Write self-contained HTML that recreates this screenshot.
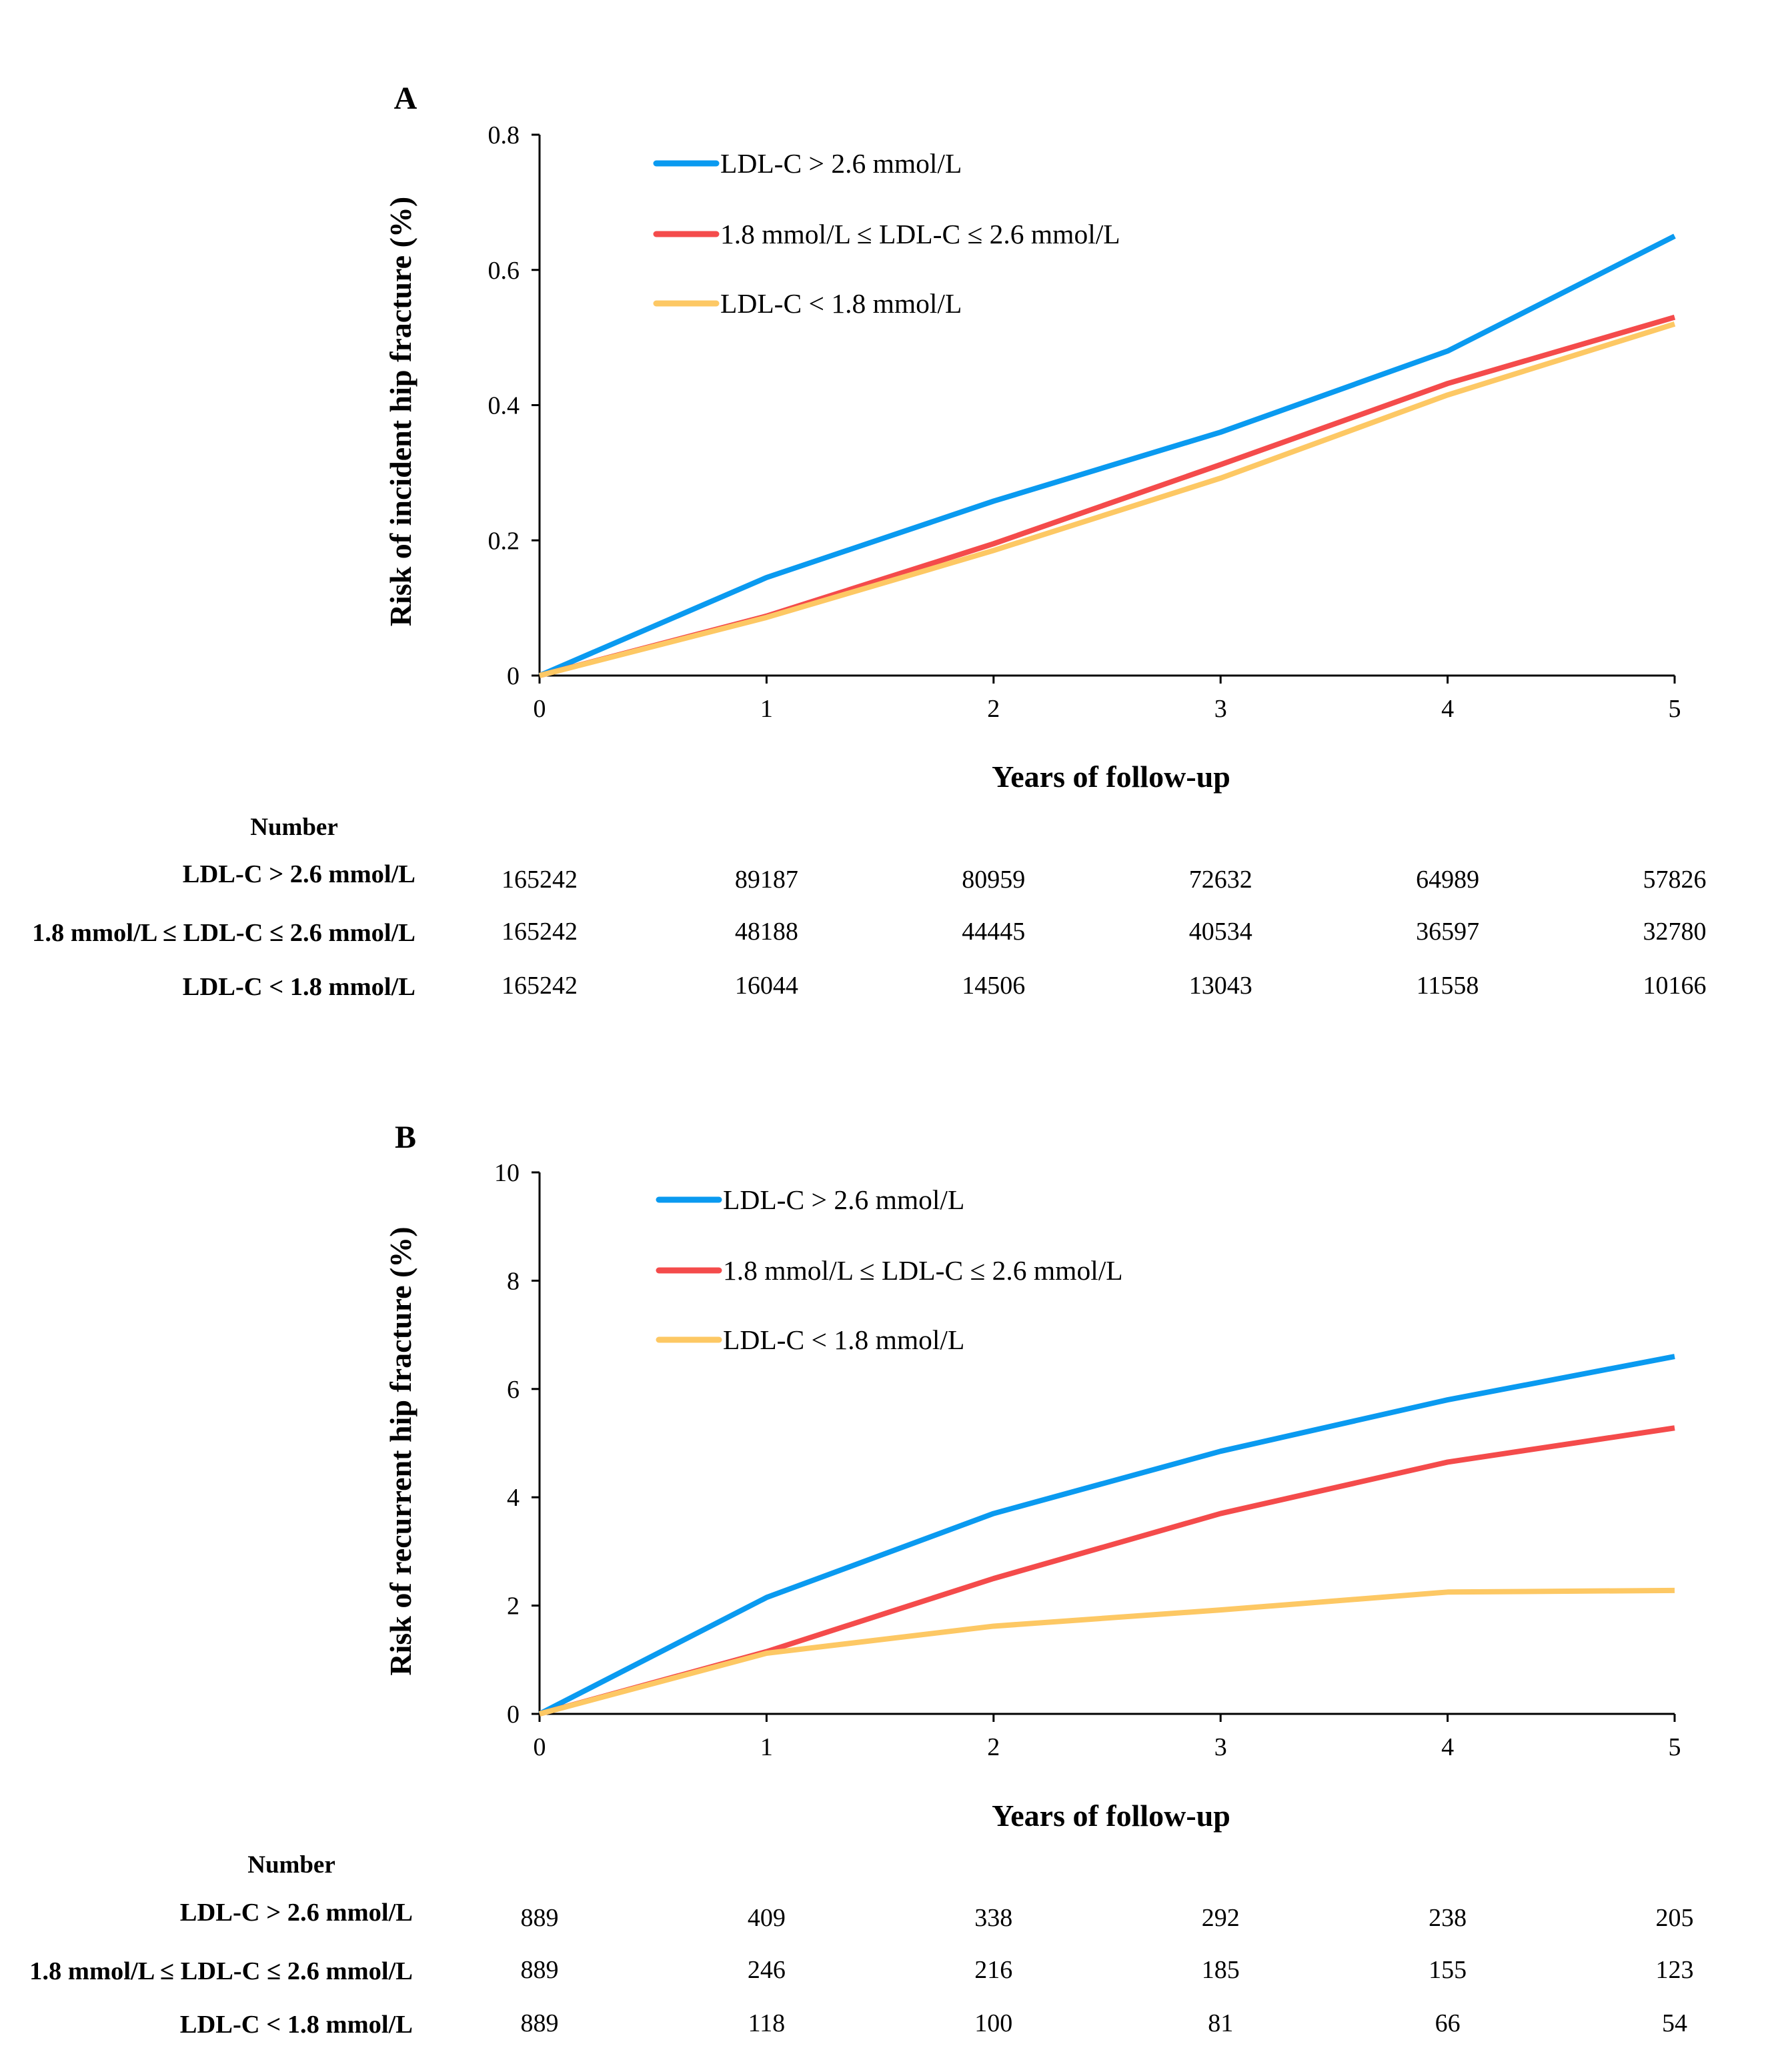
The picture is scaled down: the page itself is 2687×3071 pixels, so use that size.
<!DOCTYPE html>
<html><head><meta charset="utf-8">
<style>
html,body{margin:0;padding:0;background:#fff;}
svg{display:block;font-family:"Liberation Serif","Times New Roman",serif;}
</style></head>
<body>
<svg id="fig" width="2687" height="3071" viewBox="0 0 2687 3071" xmlns="http://www.w3.org/2000/svg"></svg>
<script>
const years = [0,1,2,3,4,5];
const seriesNames = ["LDL-C > 2.6 mmol/L","1.8 mmol/L \u2264 LDL-C \u2264 2.6 mmol/L","LDL-C < 1.8 mmol/L"];
const colors = ["#0a9af0","#f44b4b","#fdc864"];
const aBlue = [0,0.145,0.258,0.36,0.48,0.65];
const aRed = [0,0.088,0.195,0.312,0.432,0.53];
const aYellow = [0,0.086,0.185,0.292,0.415,0.52];
const aTicks = [0,0.2,0.4,0.6,0.8];
const aTickLabels = ["0","0.2","0.4","0.6","0.8"];
const bBlue = [0,2.15,3.7,4.85,5.8,6.6];
const bRed = [0,1.15,2.5,3.7,4.65,5.28];
const bYellow = [0,1.12,1.62,1.92,2.25,2.28];
const bTicks = [0,2,4,6,8,10];
const bTickLabels = ["0","2","4","6","8","10"];
const aNumbers = [[165242,89187,80959,72632,64989,57826],[165242,48188,44445,40534,36597,32780],[165242,16044,14506,13043,11558,10166]];
const bNumbers = [[889,409,338,292,238,205],[889,246,216,185,155,123],[889,118,100,81,66,54]];

const svg = document.getElementById('fig');
const NS = 'http://www.w3.org/2000/svg';
function el(tag, attrs, text){
  const e = document.createElementNS(NS, tag);
  for (const k in attrs) e.setAttribute(k, attrs[k]);
  if (text !== undefined) e.textContent = text;
  svg.appendChild(e);
  return e;
}
const X0 = 809, X1 = 2511;
function xs(v){ return X0 + (X1 - X0) * v / 5; }
const valOffsets = [8,-2,-2];

function panel(cfg){
  const ys = v => cfg.y0 + (cfg.yTop - cfg.y0) * v / cfg.ymax;
  let t = el('text',{x:608,y:cfg.letterY,'font-size':48,'font-weight':'bold','text-anchor':'middle'},cfg.letter);
  
  
  let ax = el('line',{x1:X0,y1:cfg.y0,x2:X0,y2:cfg.yTop,stroke:'#000','stroke-width':3});
  
  
  let bx = el('line',{x1:X0,y1:cfg.y0,x2:X1,y2:cfg.y0,stroke:'#000','stroke-width':3});
  
  
  cfg.ticks.forEach((v,i)=>{
    const y = ys(v);
    let tk = el('line',{x1:X0-12,y1:y,x2:X0,y2:y,stroke:'#000','stroke-width':3});
    
    
    let tl = el('text',{x:X0-30,y:y+13,'font-size':38,'text-anchor':'end'},cfg.tickLabels[i]);
    
    
  });
  years.forEach(v=>{
    const x = xs(v);
    let tk = el('line',{x1:x,y1:cfg.y0,x2:x,y2:cfg.y0+12,stroke:'#000','stroke-width':3});
    
    
    let tl = el('text',{x:x,y:cfg.y0+62,'font-size':38,'text-anchor':'middle'},String(v));
    
    
  });
  let yt = el('text',{x:0,y:0,'font-size':46,'font-weight':'bold','text-anchor':'middle',transform:'translate(616,'+cfg.yTitleY+') rotate(-90)'},cfg.yTitle);
  
  
  let xt = el('text',{x:1666,y:cfg.xTitleY,'font-size':46,'font-weight':'bold','text-anchor':'middle'},'Years of follow-up');
  
  
  cfg.series.forEach((vals,si)=>{
    const pts = vals.map((v,i)=>xs(years[i])+','+ys(v)).join(' ');
    let pl = el('polyline',{points:pts,fill:'none',stroke:colors[si],'stroke-width':8,'stroke-linejoin':'round'});
    
    
  });
  cfg.legendY.forEach((y,si)=>{
    let ll = el('line',{x1:cfg.legX,y1:y,x2:cfg.legX+90,y2:y,stroke:colors[si],'stroke-width':9,'stroke-linecap':'round'});
    
    
    let lt = el('text',{x:cfg.legX+96,y:y+14,'font-size':41.5},seriesNames[si]);
    
    
  });
  let nt = el('text',{x:cfg.numX,y:cfg.numY,'font-size':37,'font-weight':'bold','text-anchor':'middle'},'Number');
  
  
  cfg.rowY.forEach((y,ri)=>{
    let rl = el('text',{x:cfg.rowLabelX,y:y,'font-size':38.5,'font-weight':'bold','text-anchor':'end'},seriesNames[ri]);
    
    
    cfg.numbers[ri].forEach((n,ci)=>{
      let nv = el('text',{x:xs(years[ci]),y:y+valOffsets[ri],'font-size':38,'text-anchor':'middle'},String(n));
      
      
    });
  });
}

panel({letter:'A',letterY:163,y0:1013,yTop:202,ymax:0.8,ticks:aTicks,tickLabels:aTickLabels,
  yTitle:'Risk of incident hip fracture (%)',yTitleY:617,xTitleY:1180,
  series:[aBlue,aRed,aYellow],legendY:[245,351,455],legX:984,
  numX:441,numY:1252,rowLabelX:623,rowY:[1323,1411,1492],numbers:aNumbers});
panel({letter:'B',letterY:1721,y0:2570,yTop:1758,ymax:10,ticks:bTicks,tickLabels:bTickLabels,
  yTitle:'Risk of recurrent hip fracture (%)',yTitleY:2176,xTitleY:2738,
  series:[bBlue,bRed,bYellow],legendY:[1799,1905,2009],legX:988,
  numX:437,numY:2808,rowLabelX:619,rowY:[2880,2968,3048],numbers:bNumbers});
</script>
</body></html>
